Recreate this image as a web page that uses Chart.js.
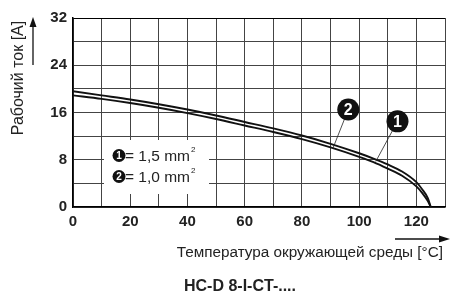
<!DOCTYPE html>
<html>
<head>
<meta charset="utf-8">
<script src="https://cdn.jsdelivr.net/npm/chart.js@4"></script>
<style>
  html, body { margin: 0; padding: 0; background: #fff; }
  #wrap { width: 451px; height: 295px; position: relative; }
</style>
</head>
<body>
<div id="wrap"><canvas id="derating"></canvas></div>
<script>
// derating curve HC-D 8-I-CT
const temps = [0, 10, 20, 30, 40, 50, 60, 70, 80, 90, 100, 105, 110, 115, 120, 122, 124, 125];
const current15 = [19.6, 18.9, 18.2, 17.4, 16.5, 15.5, 14.4, 13.3, 12.1, 10.7, 9.1, 8.2, 7.2, 6.0, 4.2, 3.0, 1.5, 0];
const current10 = [18.9, 18.3, 17.6, 16.8, 15.9, 14.9, 13.8, 12.7, 11.5, 10.1, 8.5, 7.6, 6.5, 5.3, 3.5, 2.4, 1.0, 0];

const yTickLabels = [0, 8, 16, 24, 32];
const xTickLabels = [0, 20, 40, 60, 80, 100, 120];

const legendItems = ['= 1,5 mm', '= 1,0 mm'];
const yTitle = 'Рабочий ток [A]';
const xTitle = 'Температура окружающей среды [°C]';
const chartTitle = 'HC-D 8-I-CT-....';

const FONT = '"Liberation Sans", Arial, Helvetica, sans-serif';

const toPoints = (ys) => temps.map((t, i) => ({ x: t, y: ys[i] }));

function badge(ctx, x, y, r, label, size) {
    ctx.beginPath();
    ctx.arc(x, y, r, 0, Math.PI * 2);
    ctx.fillStyle = '#111';
    ctx.fill();
    ctx.fillStyle = '#fff';
    ctx.font = `bold ${size}px ${FONT}`;
    ctx.textAlign = 'center';
    ctx.textBaseline = 'middle';
    ctx.fillText(label, x, y + 1);
}

const legendBoxPlugin = {
    id: 'legendBox',
    beforeDatasetsDraw(chart) {
        const ctx = chart.ctx;
        ctx.save();
        ctx.fillStyle = '#fff';
        ctx.fillRect(104, 140, 105, 54);
        const rows = [161, 182];
        legendItems.forEach((txt, i) => {
            badge(ctx, 119, rows[i] - 5.5, 6.5, String(i + 1), 10);
            ctx.fillStyle = '#222';
            ctx.font = `15.5px ${FONT}`;
            ctx.textAlign = 'left';
            ctx.textBaseline = 'alphabetic';
            ctx.fillText(txt, 125, rows[i]);
            const w = ctx.measureText(txt).width;
            ctx.font = `8px ${FONT}`;
            ctx.fillText('2', 125 + w + 1, rows[i] - 9);
        });
        ctx.restore();
    }
};

// callouts: circle position and leader target, in data units
const callouts = [
    { label: '2', cx: 96.2, cy: 16.5, tx: 90.8, ty: 9.9 },
    { label: '1', cx: 113.4, cy: 14.5, tx: 105.8, ty: 7.7 }
];

const decorPlugin = {
    id: 'decor',
    afterDraw(chart) {
        const ctx = chart.ctx;
        const xs = chart.scales.x, ys = chart.scales.y;
        ctx.save();

        callouts.forEach(c => {
            const cx = xs.getPixelForValue(c.cx), cy = ys.getPixelForValue(c.cy);
            const tx = xs.getPixelForValue(c.tx), ty = ys.getPixelForValue(c.ty);
            ctx.strokeStyle = '#222';
            ctx.lineWidth = 0.8;
            ctx.beginPath();
            ctx.moveTo(cx, cy);
            ctx.lineTo(tx, ty);
            ctx.stroke();
            badge(ctx, cx, cy, 11, c.label, 16);
        });

        ctx.fillStyle = '#222';
        ctx.strokeStyle = '#111';

        // y title + arrow
        ctx.save();
        ctx.translate(19, 78);
        ctx.rotate(-Math.PI / 2);
        ctx.font = `16px ${FONT}`;
        ctx.textAlign = 'center';
        ctx.textBaseline = 'middle';
        ctx.fillText(yTitle, 0, 0);
        ctx.restore();

        ctx.lineWidth = 1.3;
        ctx.beginPath();
        ctx.moveTo(33, 65);
        ctx.lineTo(33, 25);
        ctx.stroke();
        ctx.beginPath();
        ctx.moveTo(33, 17);
        ctx.lineTo(29.5, 27);
        ctx.lineTo(36.5, 27);
        ctx.closePath();
        ctx.fillStyle = '#111';
        ctx.fill();

        // x title + arrow
        ctx.fillStyle = '#222';
        ctx.font = `15.3px ${FONT}`;
        ctx.textAlign = 'right';
        ctx.textBaseline = 'middle';
        ctx.fillText(xTitle, 443, 253);

        ctx.beginPath();
        ctx.moveTo(395, 239);
        ctx.lineTo(441, 239);
        ctx.stroke();
        ctx.beginPath();
        ctx.moveTo(450, 239);
        ctx.lineTo(439, 235.5);
        ctx.lineTo(439, 242.5);
        ctx.closePath();
        ctx.fillStyle = '#111';
        ctx.fill();

        // chart title
        ctx.fillStyle = '#222';
        ctx.font = `bold 16px ${FONT}`;
        ctx.textAlign = 'center';
        ctx.fillText(chartTitle, 240, 287);

        ctx.restore();
    }
};

new Chart(document.getElementById('derating').getContext('2d'), {
    type: 'line',
    data: {
        datasets: [
            { label: '1,5 mm²', data: toPoints(current15), borderColor: '#111', borderWidth: 1.9, pointRadius: 0, cubicInterpolationMode: 'monotone', fill: false },
            { label: '1,0 mm²', data: toPoints(current10), borderColor: '#111', borderWidth: 1.9, pointRadius: 0, cubicInterpolationMode: 'monotone', fill: false }
        ]
    },
    options: {
        responsive: true,
        maintainAspectRatio: false,
        animation: false,
        layout: { padding: { top: 18, right: 0, left: 0, bottom: 0 } },
        plugins: { legend: { display: false }, tooltip: { enabled: false } },
        scales: {
            x: {
                type: 'linear',
                min: 0, max: 130,
                afterFit: (s) => { s.height = 88; },
                border: { color: '#000', width: 1.5 },
                grid: { color: '#444', lineWidth: 1, drawTicks: false },
                ticks: {
                    stepSize: 10,
                    padding: 6,
                    maxRotation: 0,
                    autoSkip: false,
                    color: '#222',
                    font: { family: FONT, size: 15, weight: 'bold' },
                    callback: (v) => xTickLabels.includes(v) ? String(v) : ''
                }
            },
            y: {
                min: 0, max: 32,
                afterFit: (s) => { s.width = 73; },
                border: { color: '#000', width: 1.5 },
                grid: { color: (c) => c.tick && c.tick.value === 32 ? '#000' : '#444', lineWidth: 1, drawTicks: false },
                ticks: {
                    stepSize: 4,
                    padding: 6,
                    autoSkip: false,
                    color: '#222',
                    font: { family: FONT, size: 15, weight: 'bold' },
                    callback: (v) => yTickLabels.includes(v) ? String(v) : ''
                }
            }
        }
    },
    plugins: [legendBoxPlugin, decorPlugin]
});
</script>
</body>
</html>
